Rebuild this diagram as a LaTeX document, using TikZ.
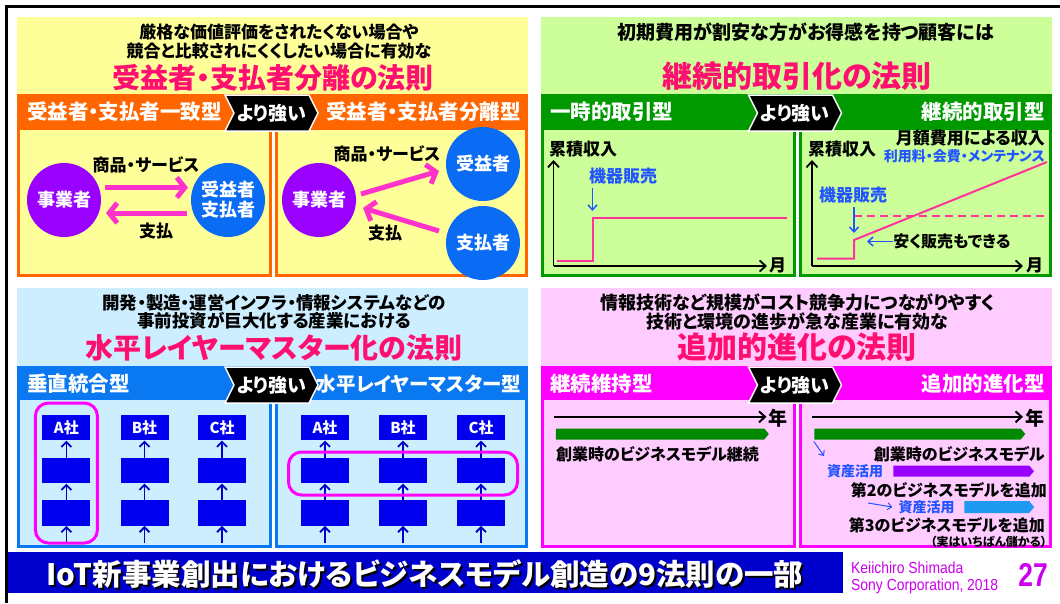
\documentclass[tikz,border=0pt]{standalone}
\usepackage{fontspec}
\setmainfont{Noto Sans CJK JP}[RawFeature=+palt]
\newfontfamily\narrowsans{Liberation Sans}[FakeStretch=0.87]
\newfontfamily\pagesans{Liberation Sans}[FakeStretch=0.8]
\usetikzlibrary{arrows.meta,shapes.symbols,calc}
\definecolor{ylbg}{HTML}{FFFF99}
\definecolor{orng}{HTML}{FF6600}
\definecolor{grbg}{HTML}{CCFF99}
\definecolor{grband}{HTML}{009900}
\definecolor{blbg}{HTML}{CCEEFF}
\definecolor{blband}{HTML}{0A78F0}
\definecolor{pkbg}{HTML}{FFCCFF}
\definecolor{pkband}{HTML}{FF00FF}
\definecolor{ttlpink}{HTML}{FF0F6F}
\definecolor{arrpink}{HTML}{FF33CC}
\definecolor{linepink}{HTML}{FF3399}
\definecolor{purp}{HTML}{9900FF}
\definecolor{cblue}{HTML}{0A6CF5}
\definecolor{boxblue}{HTML}{0000EE}
\definecolor{darkblue}{HTML}{0000CC}
\definecolor{txtblue}{HTML}{2255FF}
\definecolor{barblue}{HTML}{0000CC}
\definecolor{signmag}{HTML}{CC00EE}
\definecolor{violetbar}{HTML}{9900FF}
\definecolor{skybar}{HTML}{1E9BF0}
\definecolor{grbar}{HTML}{008800}
\tikzset{
  hdr/.style={font=\bfseries\fontsize{17}{19}\selectfont, inner sep=0pt, align=center},
  ttl/.style={font=\bfseries\fontsize{28}{30}\selectfont, text=ttlpink, inner sep=0pt},
  bandlbl/.style={font=\bfseries\fontsize{20.5}{22}\selectfont, text=white, inner sep=0pt},
  chev/.style={shape=signal, signal from=west, signal to=east, signal pointer angle=127,
    fill=black, draw=white, line width=1.5pt, text=white,
    font=\bfseries\fontsize{19}{20}\selectfont, minimum width=93pt, minimum height=36pt, inner sep=0pt},
  panel/.style={line width=3pt},
  actor/.style={circle, minimum size=74pt, inner sep=0pt, text=white,
    font=\bfseries\fontsize{18}{20}\selectfont, align=center},
  lbl/.style={font=\bfseries\fontsize{17}{19}\selectfont, inner sep=0pt},
  bluelbl/.style={font=\bfseries\fontsize{17}{19}\selectfont, inner sep=0pt, text=txtblue},
  flow/.style={arrpink, line width=5pt, -{Straight Barb[length=8pt,width=20pt]}},
  axis/.style={black, line width=1.8pt, -{Straight Barb[length=6pt,width=11pt]}},
  bluearr/.style={txtblue, line width=1.5pt, -{Straight Barb[length=5pt,width=9pt]}},
  pinkline/.style={linepink, line width=2pt},
  corp/.style={rectangle, fill=boxblue, minimum width=48pt, minimum height=25.5pt, inner sep=0pt,
    text=white, font=\bfseries\fontsize{15}{16}\selectfont},
  uparr/.style={darkblue, line width=1.8pt, -{Straight Barb[length=5pt,width=10pt]}},
  grp/.style={draw=pkband, line width=3pt, rounded corners=13pt, inner sep=0pt},
  bar/.style={shape=signal, signal to=east, signal pointer angle=100, inner sep=0pt, minimum height=11pt},
  tline/.style={black, line width=2pt, -{Straight Barb[length=6pt,width=11pt]}},
  smallarr/.style={txtblue, line width=1pt, -{Straight Barb[length=4pt,width=7pt]}},
  btxt/.style={font=\bfseries\fontsize{29.5}{32}\selectfont, inner sep=0pt},
  sign/.style={inner sep=0pt, anchor=west, text=signmag, font=\narrowsans\fontsize{16}{16}\selectfont},
}
\begin{document}
\begin{tikzpicture}[x=1pt,y=-1pt]
\useasboundingbox (0,0) rectangle (1060,603);
\fill[white] (0,0) rectangle (1060,603);
\draw[line width=3pt] (6.5,603) -- (6.5,6.5) -- (1060,6.5);

% ---------------- Q1 ----------------
\fill[ylbg] (17,17) rectangle (528,94);
\fill[orng] (17,94) rectangle (528,128);
\draw[panel, draw=orng, fill=ylbg] (18.5,128) rectangle (270.5,275.5);
\draw[panel, draw=orng, fill=ylbg] (276.5,128) rectangle (526.5,275.5);
\node[hdr] (q1h) at (279,41.5) {厳格な価値評価をされたくない場合や\\競合と比較されにくくしたい場合に有効な};
\node[ttl] (q1t) at (273,78) {受益者・支払者分離の法則};
\node[bandlbl, anchor=west] (q1l) at (27,112) {受益者・支払者一致型};
\node[bandlbl, anchor=east] (q1r) at (521,112) {受益者・支払者分離型};
\node[chev] (q1c) at (271.5,113) {より強い};

\node[actor, fill=purp] (b1) at (64,200) {事業者};
\node[actor, fill=cblue] (c1) at (228,200) {受益者\\支払者};
\draw[flow] ($(b1.center)+(41,-12.5)$) -- ($(c1.center)+(-40,-12.5)$);
\draw[flow] ($(c1.center)+(-41,13)$) -- ($(b1.center)+(42,13)$);
\node[lbl] (gs1) at (146,165) {商品・サービス};
\node[lbl] (pay1) at (156,231) {支払};

\node[actor, fill=purp] (b2) at (319,200) {事業者};
\node[actor, fill=cblue] (u2) at (483,164) {受益者};
\node[actor, fill=cblue] (p2) at (483,243) {支払者};
\draw[flow] ($(b2.center)+(42,-6)$) -- ($(u2.center)+(-44,7)$);
\draw[flow] ($(p2.center)+(-44,-12)$) -- ($(b2.center)+(44,8)$);
\node[lbl] (gs2) at (387,154) {商品・サービス};
\node[lbl] (pay2) at (385,233) {支払};

% ---------------- Q2 ----------------
\fill[grbg] (541,17) rectangle (1052,94);
\fill[grband] (541,94) rectangle (1052,128);
\draw[panel, draw=grband, fill=grbg] (542.5,128) rectangle (794.5,275.5);
\draw[panel, draw=grband, fill=grbg] (800.5,128) rectangle (1050.5,275.5);
\node[hdr, font=\bfseries\fontsize{19}{21}\selectfont] (q2h) at (806,32) {初期費用が割安な方がお得感を持つ顧客には};
\node[ttl, font=\bfseries\fontsize{30}{32}\selectfont] (q2t) at (797,76) {継続的取引化の法則};
\node[bandlbl, anchor=west] (q2l) at (550,112) {一時的取引型};
\node[bandlbl, anchor=east] (q2r) at (1045,112) {継続的取引型};
\node[chev] (q2c) at (795,113) {より強い};

\node[lbl] (cum1) at (583,149) {累積収入};
\coordinate (o1) at (553.5,266);
\coordinate (yt1) at (553.5,160);
\coordinate (xe1) at (767,266);
\draw[axis] (o1) -- (yt1);
\draw[axis] (o1) -- (xe1);
\node[lbl, anchor=west] (m1) at (769,265) {月};
\draw[pinkline] (557,261) -- (592.5,261) -- (592.5,218) -- (787,218);
\node[bluelbl] (eq1) at (623,176) {機器販売};
\coordinate (eq1a) at (592.5,187.5);
\coordinate (eq1b) at (592.5,211);
\draw[bluearr] (eq1a) -- (eq1b);

\node[lbl] (cum2) at (842,149) {累積収入};
\coordinate (o2) at (812,266);
\coordinate (yt2) at (812,160);
\coordinate (xe2) at (1023,266);
\draw[axis] (o2) -- (yt2);
\draw[axis] (o2) -- (xe2);
\node[lbl, anchor=west] (m2) at (1026,265) {月};
\draw[pinkline] (817,258.5) -- (854,258.5) -- (854,240) -- (1047,162);
\draw[pinkline, dash pattern=on 8pt off 5pt] (854,216) -- (1047,216);
\node[bluelbl] (eq2) at (853,195) {機器販売};
\coordinate (eq2b) at (854,233);
\draw[bluearr] ($(eq2.south)+(1,4)$) -- (eq2b);
\node[lbl, font=\bfseries\fontsize{16}{18}\selectfont] (cheap) at (952,241.5) {安く販売もできる};
\coordinate (cheapb) at (867,241.5);
\draw[bluearr] (cheap.west) -- (cheapb);
\node[lbl, anchor=east] (mon) at (1045,138.5) {月額費用による収入};
\node[bluelbl, anchor=east, font=\bfseries\fontsize{14}{16}\selectfont] (fees) at (1045,156) {利用料・会費・メンテナンス};

% ---------------- Q3 ----------------
\fill[blbg] (17,288) rectangle (528,366);
\fill[blband] (17,366) rectangle (528,398);
\draw[panel, draw=blband, fill=blbg] (18.5,398) rectangle (270.5,546.5);
\draw[panel, draw=blband, fill=blbg] (276.5,398) rectangle (526.5,546.5);
\node[hdr, font=\bfseries\fontsize{17.5}{18}\selectfont] (q3h) at (274,312) {開発・製造・運営インフラ・情報システムなどの\\事前投資が巨大化する産業における};
\node[ttl] (q3t) at (274,347.5) {水平レイヤーマスター化の法則};
\node[bandlbl, anchor=west] (q3l) at (27,384) {垂直統合型};
\node[bandlbl, anchor=east, font=\bfseries\fontsize{19.5}{22}\selectfont] (q3r) at (521,384) {水平レイヤーマスター型};
\node[chev] (q3c) at (271.5,385) {より強い};

\foreach \n/\x/\t in {la/66.4/A社, lb/144.5/B社, lc/222/C社, ra/325/A社, rb/403/B社, rc/481/C社}{
  \node[corp] (\n1) at (\x,427.7) {\t};
  \node[corp] (\n2) at (\x,470.7) {};
  \node[corp] (\n3) at (\x,513) {};
  \coordinate (\n0) at (\x,543);
  \draw[uparr] (\n0) -- (\n3.south);
  \draw[uparr] (\n3.north) -- (\n2.south);
  \draw[uparr] (\n2.north) -- (\n1.south);
}
\node[grp, minimum width=62pt, minimum height=140pt] (g1) at (66.4,473) {};
\node[grp, minimum width=229pt, minimum height=43pt] (g2) at (403,473.5) {};

% ---------------- Q4 ----------------
\fill[pkbg] (541,288) rectangle (1052,366);
\fill[pkband] (541,366) rectangle (1052,398);
\draw[panel, draw=pkband, fill=pkbg] (542.5,398) rectangle (794.5,546.5);
\draw[panel, draw=pkband, fill=pkbg] (800.5,398) rectangle (1050.5,546.5);
\node[hdr, font=\bfseries\fontsize{18}{17.5}\selectfont] (q4h) at (797.5,312) {情報技術など規模がコスト競争力につながりやすく\\技術と環境の進歩が急な産業に有効な};
\node[ttl, font=\bfseries\fontsize{30}{32}\selectfont] (q4t) at (797,347) {追加的進化の法則};
\node[bandlbl, anchor=west] (q4l) at (550,384) {継続維持型};
\node[bandlbl, anchor=east] (q4r) at (1045,384) {追加的進化型};
\node[chev] (q4c) at (795,385) {より強い};

\coordinate (t1s) at (553.6,416.8);
\coordinate (t1e) at (766.5,416.8);
\draw[tline] (t1s) -- (t1e);
\node[lbl, font=\bfseries\fontsize{19}{20}\selectfont, anchor=west] (yr1) at (768,418.5) {年};
\node[bar, fill=grbar, minimum width=213pt] (gb1) at (660,434) {};
\node[lbl, font=\bfseries\fontsize{16}{18}\selectfont] (keep) at (657.5,454) {創業時のビジネスモデル継続};

\coordinate (t2s) at (812,416.8);
\coordinate (t2e) at (1023,416.8);
\draw[tline] (t2s) -- (t2e);
\node[lbl, font=\bfseries\fontsize{19}{20}\selectfont, anchor=west] (yr2) at (1025,418.5) {年};
\node[bar, fill=grbar, minimum width=211pt] (gb2) at (917.5,434) {};
\coordinate (sa1) at (813.8,441.5);
\coordinate (sa2) at (824,456);
\draw[smallarr] (sa1) -- (sa2);
\node[lbl, font=\bfseries\fontsize{16}{18}\selectfont, anchor=east] (bm1) at (1045,454) {創業時のビジネスモデル};
\node[bluelbl, font=\bfseries\fontsize{14}{16}\selectfont] (as1) at (855,471) {資産活用};
\node[bar, fill=violetbar, minimum width=140.7pt] (vb) at (961.3,471.2) {};
\node[lbl, font=\bfseries\fontsize{16}{18}\selectfont, anchor=east] (bm2) at (1047,490) {第2のビジネスモデルを追加};
\node[bluelbl, font=\bfseries\fontsize{14}{16}\selectfont] (as2) at (926.5,507) {資産活用};
\coordinate (sb1) at (868,503);
\draw[smallarr] (sb1) -- ($(as2.west)+(-6,0)$);
\node[bar, fill=skybar, minimum width=69.7pt, minimum height=12pt] (sb) at (996.8,507) {};
\node[lbl, font=\bfseries\fontsize{16}{18}\selectfont, anchor=east] (bm3) at (1045,525.6) {第3のビジネスモデルを追加};
\node[lbl, font=\bfseries\fontsize{12}{13}\selectfont, anchor=east] (note) at (1047,542) {（実はいちばん儲かる）};

% ---------------- bottom ----------------
\fill[barblue] (8,552) rectangle (843,593);
\node[btxt, text=black] (bts) at (427,576) {IoT新事業創出におけるビジネスモデル創造の9法則の一部};
\node[btxt, text=white] (bt) at (425,574) {IoT新事業創出におけるビジネスモデル創造の9法則の一部};
\node[sign] (auth) at (851,567.5) {Keiichiro Shimada};
\node[sign] (corpn) at (851,586.5) {Sony Corporation, 2018};
\node[inner sep=0pt, text=signmag, font=\pagesans\bfseries\fontsize{33}{33}\selectfont] (pg) at (1033,575) {27};
\end{tikzpicture}
\end{document}
